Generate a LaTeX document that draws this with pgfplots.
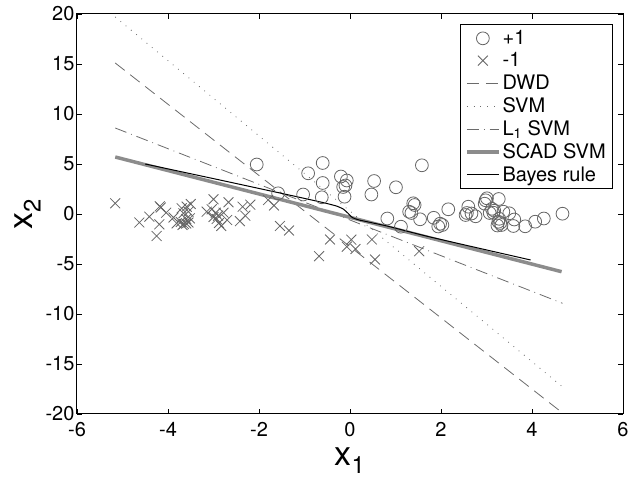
\documentclass[border=0pt]{standalone}
\usepackage{fontspec}
\setmainfont{TeX Gyre Heros}
\usepackage{pgfplots}
\pgfplotsset{compat=1.18}
\definecolor{mk}{gray}{0.4}
\definecolor{ln}{gray}{0.42}
\definecolor{scad}{gray}{0.55}

\begin{document}
\begin{tikzpicture}
\begin{axis}[name=ax, scale only axis, width=546pt, height=400pt,
  xmin=-6, xmax=6, ymin=-20, ymax=20,
  xtick distance=2, ytick distance=5,
  tick align=inside, xtick pos=both, ytick pos=both,
  major tick length=5pt,
  axis line style={line width=1pt},
  every tick/.style={black, line width=0.8pt},
  /pgf/number format/assume math mode=true,
  ticklabel style={font=\fontsize{20}{22}\selectfont},
  xticklabel style={yshift=-5pt},
  yticklabel style={xshift=1pt},
  xlabel={x\textsubscript{1}}, ylabel={x\textsubscript{2}},
  label style={font=\fontsize{34}{36}\selectfont},
  xlabel style={yshift=-4pt},
  ylabel style={yshift=-2pt},
  legend style={at={(rel axis cs:0.982,0.975)}, anchor=north east,
    font=\fontsize{20}{23}\selectfont, draw=black, line width=1pt,
    cells={anchor=west}, row sep=2.6pt, inner xsep=5pt, inner ysep=4pt},
  legend image code/.code={\draw[mark repeat=2,mark phase=2]
    plot coordinates {(0pt,0pt) (16pt,0pt) (32pt,0pt)};},
]
% +1 class
\addplot[only marks, mark=o, mark size=6.4pt, mk, mark options={line width=0.8pt}] coordinates {
 (-2.05,4.95) (-1.58,2.07) (-1.03,1.95) (-0.92,4.07) (-0.6,5.1) (-0.6,3.1)
 (-0.62,1.67) (-0.2,3.75) (-0.07,3.35) (-0.15,2.7) (-0.1,2.85) (-0.12,1.73)
 (0.53,3.3) (0.47,1.95) (1.01,2.67) (1.58,4.87) (1.39,1.07) (1.42,0.9)
 (1.35,0.1) (1.3,0.23) (0.82,-0.45) (1.12,-1.27) (1.54,-0.53) (1.84,-0.38)
 (2.16,0.47) (1.98,-0.97) (1.94,-1.25) (2.03,-1.1) (2.6,0.73) (2.57,0.1)
 (2.54,-0.1) (2.67,0.05) (2.76,-0.23) (2.98,1.37) (3.01,1.57) (2.96,1.03)
 (3.27,1.5) (3.12,0.52) (3.17,0.33) (3.07,0.1) (3.15,0.13) (3.28,-0.48)
 (3.37,0.23) (3.5,0.07) (3.3,-0.9) (3.33,-1.1) (3.24,-1.15) (3.26,-0.77)
 (3.61,-0.55) (3.59,-1.2) (3.85,-1.23) (4.07,-0.77) (4.26,-0.45) (4.67,0.03)
};
\addlegendentry{+1}
% -1 class
\addplot[only marks, mark=x, mark size=7pt, mk, mark options={line width=0.8pt}] coordinates {
 (-5.16,1.07) (-4.63,-0.85) (-4.41,-0.27) (-4.18,0.77) (-4.16,0.65) (-4.04,0.13)
 (-4.19,-1.03) (-4.25,-2.2) (-3.88,-0.35) (-3.81,-0.93) (-3.7,0.57) (-3.59,0.73)
 (-3.5,1.0) (-3.66,0.07) (-3.72,-0.8) (-3.65,-1.0) (-3.6,-0.95) (-3.68,-1.1)
 (-3.55,-0.85) (-3.55,0.23) (-3.6,-0.5) (-3.52,-0.43)
 (-3.15,0.23) (-3.0,1.47) (-3.04,0.47) (-2.95,0.13) (-2.9,-0.17) (-2.93,-0.5)
 (-2.88,-0.9) (-2.83,-1.2) (-2.67,1.17) (-2.7,-0.6) (-2.78,0.13) (-2.42,-0.72)
 (-2.36,0.73) (-2.3,-0.17) (-2.19,0.93) (-3.0,-0.3)
 (-1.8,1.4) (-1.67,0.85) (-1.54,-1.2) (-1.34,-1.65) (-0.68,-4.22) (-0.44,-2.55)
 (0.03,-2.57) (-0.07,-3.27) (0.12,-3.5) (0.48,-2.55) (0.55,-4.55) (1.52,-3.72)
};
\addlegendentry{-1}
% boundaries
\addplot[ln, line width=0.8pt, dash pattern=on 12pt off 7pt] coordinates {(-5.16,15.1) (4.7,-20)};
\addlegendentry{DWD}
\addplot[ln, line width=0.8pt, dash pattern=on 0.8pt off 6pt] coordinates {(-5.16,19.7) (4.7,-17.4)};
\addlegendentry{SVM}
\addplot[ln, line width=0.8pt, dash pattern=on 12pt off 5pt on 0.8pt off 5pt] coordinates {(-5.16,8.6) (4.67,-8.93)};
\addlegendentry{L\textsubscript{1} SVM}
\addplot[scad, line width=3.5pt] coordinates {(-5.16,5.7) (4.65,-5.77)};
\addlegendentry{SCAD SVM}
\addplot[black, line width=1pt, smooth, tension=0.3] coordinates {
 (-4.5,5.0) (-2.86,3.4) (-1.39,1.95) (-0.6,1.15) (-0.3,0.8) (-0.15,0.5)
 (-0.05,0.1) (0.05,-0.35) (0.2,-0.6) (0.81,-1.2) (1.76,-2.3) (3.97,-4.6)
};
\addlegendentry{Bayes rule}
\end{axis}
\path ([shift={(-77pt,-70pt)}]ax.south west) rectangle ([shift={(12pt,14pt)}]ax.north east);
\end{tikzpicture}
\end{document}
